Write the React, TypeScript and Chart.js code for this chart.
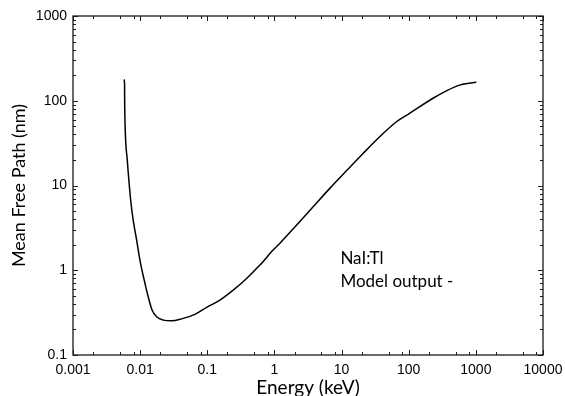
import React, { useEffect, useRef } from "react";
import { Chart, registerables } from "chart.js";

Chart.register(...registerables);

// ---- data ----
const energyKeV = [
  0.00574, 0.00586, 0.00588, 0.006, 0.00643, 0.00723, 0.00788, 0.00887, 0.00993,
  0.0115, 0.0132, 0.0151, 0.0176, 0.0221, 0.0294, 0.0415, 0.0653, 0.0977, 0.154,
  0.243, 0.385, 0.607, 0.957, 1.2, 2.13, 3.77, 6.67, 11.8, 20.9, 37, 65.6, 103,
  230, 364, 574, 1016,
];
const meanFreePathNm = [
  178, 160, 102, 45, 20, 6.7, 3.9, 2.27, 1.32,
  0.764, 0.485, 0.338, 0.282, 0.258, 0.253, 0.267, 0.301, 0.364, 0.444,
  0.582, 0.8, 1.15, 1.73, 2.07, 3.4, 5.61, 9.25, 14.9, 23.9, 37.6, 56.5, 71,
  107, 131, 153, 165,
];
const xTickValues = [0.001, 0.01, 0.1, 1, 10, 100, 1000, 10000];
const yTickValues = [0.1, 1, 10, 100, 1000];
const xMinorMultipliers = [2, 5, 8];
const yMinorMultipliers = [2, 3, 4, 5, 6, 7, 8, 9];
const xAxisTitle = "Energy (keV)";
const yAxisTitle = "Mean Free Path (nm)";
const noteLines = ["NaI:Tl", "Model output -"];
const noteAnchor = { x: 9.6, y: 1.2 };

const framePlugin = {
  id: "framePlugin",
  afterDraw(chart: any) {
    const { ctx, chartArea, scales } = chart;
    const { left, right, top, bottom } = chartArea;
    const xs = scales.x;
    const ys = scales.y;
    ctx.save();
    ctx.strokeStyle = "#1a1a1a";
    ctx.lineWidth = 1.3;
    ctx.strokeRect(left, top, right - left, bottom - top);

    ctx.lineWidth = 1;
    ctx.beginPath();
    const major = 5;
    const minor = 3;
    xTickValues.forEach((v, i) => {
      const px = Math.round(xs.getPixelForValue(v)) + 0.5;
      ctx.moveTo(px, bottom);
      ctx.lineTo(px, bottom - major);
      ctx.moveTo(px, top);
      ctx.lineTo(px, top + major);
      if (i < xTickValues.length - 1) {
        xMinorMultipliers.forEach((m) => {
          const p = Math.round(xs.getPixelForValue(v * m)) + 0.5;
          ctx.moveTo(p, bottom);
          ctx.lineTo(p, bottom - minor);
          ctx.moveTo(p, top);
          ctx.lineTo(p, top + minor);
        });
      }
    });
    yTickValues.forEach((v, i) => {
      const py = Math.round(ys.getPixelForValue(v)) + 0.5;
      ctx.moveTo(left, py);
      ctx.lineTo(left + major, py);
      ctx.moveTo(right, py);
      ctx.lineTo(right - major, py);
      if (i < yTickValues.length - 1) {
        yMinorMultipliers.forEach((m) => {
          const p = Math.round(ys.getPixelForValue(v * m)) + 0.5;
          ctx.moveTo(left, p);
          ctx.lineTo(left + minor, p);
          ctx.moveTo(right, p);
          ctx.lineTo(right - minor, p);
        });
      }
    });
    ctx.stroke();

    ctx.fillStyle = "#000";
    ctx.font = "19px Lato";
    ctx.textAlign = "center";
    ctx.textBaseline = "alphabetic";
    ctx.fillText(xAxisTitle, (left + right) / 2, chart.height - 2);

    ctx.save();
    ctx.translate(25, (top + bottom) / 2);
    ctx.rotate(-Math.PI / 2);
    ctx.font = "18px Lato";
    ctx.fillText(yAxisTitle, 0, 0);
    ctx.restore();

    ctx.font = "17px Lato";
    ctx.textAlign = "left";
    const nx = xs.getPixelForValue(noteAnchor.x);
    const ny = ys.getPixelForValue(noteAnchor.y);
    noteLines.forEach((line, i) => {
      ctx.fillText(line, nx, ny + i * 23);
    });
    ctx.restore();
  },
};

export default function App() {
  const canvasRef = useRef<HTMLCanvasElement | null>(null);

  useEffect(() => {
    document.body.style.margin = "0";
    const canvas = canvasRef.current;
    if (!canvas) return;
    const chart = new Chart(canvas, {
      type: "scatter",
      data: {
        datasets: [
          {
            data: energyKeV.map((e, i) => ({ x: e, y: meanFreePathNm[i] })),
            showLine: true,
            borderColor: "#000",
            borderWidth: 1.5,
            pointRadius: 0,
            cubicInterpolationMode: "monotone",
            fill: false,
          },
        ],
      },
      options: {
        animation: false,
        responsive: false,
        devicePixelRatio: 1,
        layout: { padding: { top: 16, right: 22, left: 0, bottom: 0 } },
        plugins: {
          legend: { display: false },
          tooltip: { enabled: false },
        },
        scales: {
          x: {
            type: "logarithmic",
            min: 0.001,
            max: 10000,
            grid: { display: false, drawTicks: false },
            border: { display: false },
            afterBuildTicks: (scale: any) => {
              scale.ticks = xTickValues.map((v) => ({ value: v }));
            },
            afterFit: (scale: any) => {
              scale.height = 41;
              scale.paddingLeft = 0;
              scale.paddingRight = 0;
            },
            ticks: {
              autoSkip: false,
              maxRotation: 0,
              padding: 7,
              color: "#000",
              font: { family: "'Liberation Sans', Arial, sans-serif", size: 14 },
              callback: (value: any) => String(value),
            },
          },
          y: {
            type: "logarithmic",
            min: 0.1,
            max: 1000,
            grid: { display: false, drawTicks: false },
            border: { display: false },
            afterBuildTicks: (scale: any) => {
              scale.ticks = yTickValues.map((v) => ({ value: v }));
            },
            afterFit: (scale: any) => {
              scale.width = 73;
              scale.paddingTop = 0;
              scale.paddingBottom = 0;
            },
            ticks: {
              autoSkip: false,
              padding: 6,
              color: "#000",
              font: { family: "'Liberation Sans', Arial, sans-serif", size: 14 },
              callback: (value: any) => String(value),
            },
          },
        },
      },
      plugins: [framePlugin],
    } as any);
    return () => chart.destroy();
  }, []);

  return (
    <div style={{ width: 565, height: 396 }}>
      <canvas ref={canvasRef} width={565} height={396} style={{ display: "block" }} />
    </div>
  );
}
